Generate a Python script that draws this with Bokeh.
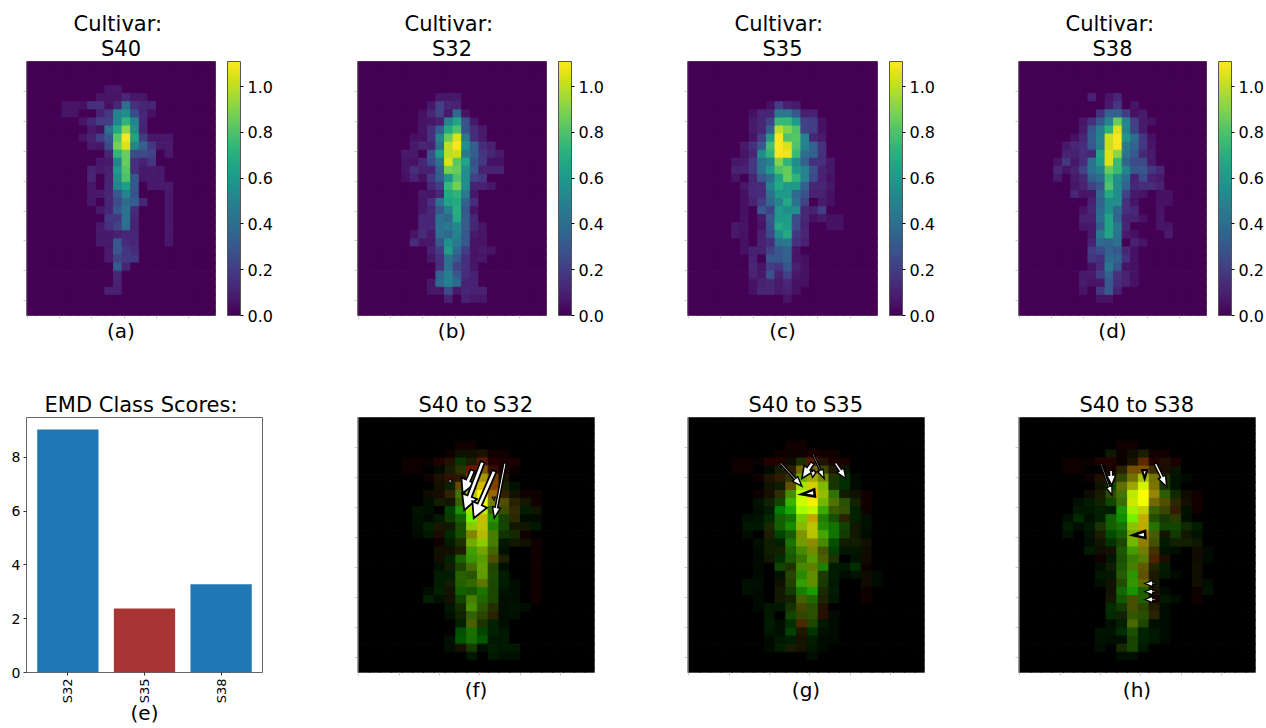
from bokeh.plotting import figure
from bokeh.embed import file_html
from bokeh.resources import INLINE
from bokeh.layouts import column, row
from bokeh.models import (ColorBar, ColumnDataSource, FixedTicker, LinearColorMapper,
                          NumeralTickFormatter, Range1d, Title)
from bokeh.palettes import Viridis256
import math

FONT = "DejaVu Sans"
VMAX = 1.11

S40 = {
 3:{9:.07,10:.07},
 4:{8:.06,9:.06,10:.06,11:.12,12:.07,13:.07},
 5:{4:.06,5:.06,6:.04,7:.15,8:.15,9:.05,10:.12,11:.4,12:.15,13:.12,14:.12},
 6:{4:.06,5:.06,8:.1,9:.18,10:.5,11:.55,12:.25,13:.12,14:.05},
 7:{6:.06,7:.13,8:.2,9:.2,10:.5,11:.72,12:.5,13:.12},
 8:{7:.08,8:.05,9:.42,10:.68,11:.92,12:.55,13:.1},
 9:{6:.06,7:.1,8:.2,9:.3,10:.82,11:1.1,12:.65,13:.2,14:.07,15:.07,16:.07},
 10:{7:.08,8:.07,9:.25,10:.88,11:1.05,12:.5,13:.35,14:.18,15:.08,16:.08},
 11:{9:.12,10:.72,11:.85,12:.25,13:.25,14:.22,16:.07},
 12:{8:.07,9:.08,10:.5,11:.85,12:.15,13:.1,14:.18},
 13:{7:.1,8:.08,9:.1,10:.6,11:.82,12:.15,13:.08,14:.08,15:.07},
 14:{7:.12,9:.1,10:.55,11:.8,12:.3,13:.07,14:.08,15:.08},
 15:{7:.07,9:.12,10:.5,11:.62,12:.3,14:.08,15:.08,16:.08},
 16:{7:.07,8:.08,9:.12,10:.3,11:.5,12:.28,16:.07},
 17:{7:.07,9:.12,10:.25,11:.38,12:.33,13:.12,16:.07},
 18:{8:.07,9:.12,10:.3,11:.42,12:.14,16:.07},
 19:{9:.18,10:.18,11:.42,12:.12,16:.07},
 20:{8:.07,9:.15,10:.22,11:.4,12:.1,16:.07},
 21:{8:.08,9:.08,10:.1,11:.12,12:.12,16:.07},
 22:{8:.08,9:.08,10:.3,11:.14,12:.12,16:.07},
 23:{9:.08,10:.3,11:.18,12:.14},
 24:{9:.08,10:.22,11:.18,12:.18},
 25:{10:.32,11:.12},
 26:{10:.12},
 27:{10:.1},
 28:{9:.1,10:.1},
}
S32 = {
 4:{9:.07,10:.07,11:.07},
 5:{8:.07,9:.22,10:.12,11:.1},
 6:{7:.05,8:.12,9:.22,10:.08,11:.38,12:.06},
 7:{7:.06,8:.07,9:.1,10:.5,11:.65,12:.28,13:.07},
 8:{7:.06,8:.15,9:.33,10:.68,11:.8,12:.28,13:.14,14:.08},
 9:{6:.05,7:.05,8:.15,9:.5,10:.85,11:1.05,12:.45,13:.14,14:.08},
 10:{6:.07,7:.12,8:.1,9:.42,10:1.0,11:1.1,12:.55,13:.33,14:.14,15:.1},
 11:{5:.08,6:.07,8:.28,9:.62,10:1.0,11:1.02,12:.45,13:.33,14:.18,15:.12,16:.08},
 12:{5:.06,6:.05,7:.12,8:.25,9:.42,10:1.05,11:.82,12:.65,13:.28,14:.18,15:.05,16:.05},
 13:{5:.06,6:.14,7:.1,8:.1,9:.33,10:.88,11:.85,12:.55,13:.3,14:.1,15:.1,16:.1},
 14:{5:.05,6:.1,7:.05,8:.18,9:.33,10:.58,11:.8,12:.55,13:.22,14:.18},
 15:{8:.12,9:.2,10:.75,11:.88,12:.55,13:.1,14:.1,15:.07},
 16:{7:.07,8:.06,9:.12,10:.68,11:.72,12:.45,13:.07},
 17:{7:.06,8:.15,9:.42,10:.65,11:.68,12:.35,13:.14},
 18:{7:.07,8:.12,9:.3,10:.48,11:.7,12:.3,13:.06},
 19:{7:.12,8:.12,9:.42,10:.38,11:.68,12:.32,13:.12},
 20:{7:.12,8:.12,9:.42,10:.45,11:.52,12:.32,13:.12,14:.06},
 21:{6:.06,7:.14,8:.08,9:.42,10:.38,11:.5,12:.3,13:.08,14:.06},
 22:{6:.14,7:.07,8:.07,9:.3,10:.55,11:.45,12:.3,13:.06,14:.06},
 23:{8:.1,9:.2,10:.62,11:.38,12:.2,13:.06,14:.08,15:.06},
 24:{8:.07,9:.15,10:.42,11:.3,12:.15,13:.06,14:.07},
 25:{9:.15,10:.42,11:.22,12:.15,13:.06},
 26:{9:.35,10:.48,11:.3,12:.14,13:.1},
 27:{8:.07,9:.38,10:.48,11:.38,12:.1,13:.1},
 28:{8:.07,9:.07,10:.25,11:.07,12:.12,13:.1,14:.1},
 29:{10:.1,12:.1,13:.07,14:.07},
}
S35 = {
 5:{9:.05,10:.2,11:.1,12:.08},
 6:{7:.05,8:.12,9:.12,10:.45,11:.45,12:.3,13:.1,14:.1},
 7:{7:.08,8:.12,9:.22,10:.75,11:.75,12:.6,13:.22,14:.2,15:.05},
 8:{7:.08,8:.12,9:.35,10:1.0,11:.9,12:.8,13:.22,14:.2,15:.05},
 9:{7:.06,8:.2,9:.62,10:1.1,11:.8,12:.82,13:.5,14:.12,15:.08},
 10:{6:.08,7:.15,8:.3,9:.78,10:1.1,11:1.05,12:.8,13:.5,14:.35,15:.15},
 11:{6:.06,7:.12,8:.55,9:.72,10:1.1,11:1.08,12:.75,13:.4,14:.35,15:.15},
 12:{5:.07,6:.08,7:.18,8:.42,9:.5,10:.9,11:.72,12:.55,13:.35,14:.15,15:.15,16:.07},
 13:{5:.1,6:.1,7:.18,8:.42,9:.6,10:.8,11:.85,12:.6,13:.5,14:.28,15:.1,16:.07},
 14:{5:.06,7:.12,8:.3,9:.4,10:.65,11:.85,12:.72,13:.5,14:.25,15:.1,16:.05},
 15:{6:.07,7:.13,8:.14,9:.5,10:.68,11:.6,12:.6,13:.35,14:.12,15:.12,16:.07},
 16:{6:.05,7:.13,8:.14,9:.42,10:.6,11:.6,12:.38,13:.28,14:.1,15:.1,16:.05},
 17:{6:.05,7:.1,8:.2,9:.38,10:.5,11:.68,12:.42,13:.22,15:.08,16:.05},
 18:{6:.05,8:.3,9:.22,10:.6,11:.55,12:.55,13:.12,14:.1,15:.2},
 19:{6:.05,8:.08,9:.3,10:.6,11:.62,12:.25,13:.12,14:.05,15:.08,16:.05,17:.05},
 20:{5:.07,6:.06,8:.06,9:.28,10:.68,11:.62,12:.25,13:.1,16:.05,17:.05},
 21:{5:.07,6:.05,8:.1,9:.25,10:.55,11:.68,12:.18,13:.12},
 22:{6:.05,8:.1,9:.14,10:.42,11:.45,12:.15,13:.1},
 23:{6:.05,7:.1,8:.1,9:.22,10:.3,11:.35,12:.07},
 24:{7:.1,9:.3,10:.3,11:.35,12:.06,13:.05},
 25:{7:.12,8:.06,9:.2,10:.18,11:.3,12:.1,13:.05},
 26:{7:.1,8:.07,9:.28,10:.1,11:.22,12:.07,13:.05},
 27:{7:.05,8:.1,9:.12,10:.08,11:.12,12:.05,13:.05},
 28:{7:.05,8:.12,9:.12,10:.08,11:.1,12:.05},
 29:{11:.06},
}
S38 = {
 4:{8:.1,10:.06,11:.12},
 5:{10:.08,11:.18,13:.06},
 6:{9:.15,10:.35,11:.35,12:.2,13:.05,14:.08},
 7:{7:.07,8:.15,9:.3,10:.5,11:.85,12:.5,13:.2,14:.08,15:.05},
 8:{7:.08,8:.3,9:.48,10:.72,11:1.05,12:.5,13:.22,14:.08},
 9:{6:.05,7:.12,8:.33,9:.5,10:1.02,11:1.1,12:.58,13:.4,14:.18,15:.05},
 10:{5:.07,6:.12,7:.14,8:.3,9:.48,10:1.02,11:1.1,12:.45,13:.35,14:.18,15:.06},
 11:{5:.1,6:.1,7:.14,8:.12,9:.65,10:1.05,11:.92,12:.42,13:.3,14:.12,15:.08},
 12:{4:.06,5:.18,6:.07,7:.14,8:.42,9:.62,10:1.05,11:.75,12:.35,13:.25,14:.25,15:.07},
 13:{4:.12,5:.06,6:.1,7:.22,8:.42,9:.5,10:.85,11:.75,12:.5,13:.3,14:.3,15:.18,16:.12},
 14:{4:.08,6:.08,7:.12,8:.33,9:.4,10:.75,11:.55,12:.4,13:.1,14:.25,15:.1,16:.08},
 15:{6:.06,7:.1,8:.22,9:.3,10:.8,11:.55,12:.35,13:.12,14:.14,15:.14,16:.1},
 16:{6:.12,7:.06,8:.07,9:.38,10:.68,11:.55,12:.22,13:.08,14:.06,16:.05,17:.05},
 17:{8:.1,9:.35,10:.55,11:.55,12:.15,13:.06,16:.05,17:.05},
 18:{7:.06,8:.12,9:.38,10:.55,11:.38,12:.15,13:.12,16:.06},
 19:{7:.1,8:.1,9:.4,10:.65,11:.35,12:.1,13:.1,14:.05,16:.06},
 20:{7:.07,8:.08,9:.33,10:.65,11:.45,12:.12,16:.06,17:.06},
 21:{8:.07,9:.45,10:.65,11:.42,12:.08,13:.05,17:.08},
 22:{8:.1,9:.38,10:.35,11:.42,13:.1,14:.06},
 23:{8:.2,9:.25,10:.35,11:.3,12:.12,13:.05},
 24:{8:.18,9:.15,10:.38,11:.35,12:.15,13:.05},
 25:{8:.06,9:.14,10:.45,11:.3,12:.06,13:.05},
 26:{7:.08,8:.08,9:.2,10:.35,11:.15,12:.1,13:.05},
 27:{7:.08,8:.06,9:.06,10:.3,11:.14,12:.1,13:.05},
 28:{7:.06,9:.18,10:.3,11:.1},
 29:{9:.06,10:.06},
}

SCORE_LABELS = ["S32", "S35", "S38"]
SCORES = [9.03, 2.38, 3.28]
BAR_COLORS = ["#1f77b4", "#a93434", "#1f77b4"]

# arrows: tail x, tail y, head x, head y (image cells), shaft, head width, head length (px), edge
ARROWS_F = [
 (10.56,6.51,9.63,9.35,4.5,15,14,1.8), (11.49,5.48,9.78,11.45,4.5,16,15,1.8),
 (12.57,6.60,10.66,12.44,4.5,16,15,1.8), (13.57,5.61,12.57,12.44,2.5,8,11,1.5),
 (8.45,7.62,8.48,8.24,1,3,4,1), (12.52,9.85,12.54,10.22,1,3,3,1.2),
]
ARROWS_G = [
 (8.48,5.61,10.49,8.49,2,7,10,1.4), (11.48,5.61,10.49,7.54,4,11,12,1.6),
 (11.51,4.53,12.56,7.54,1.6,6,9,1.3), (11.57,6.51,11.48,7.41,2,6,6,1.3),
 (13.58,5.61,14.58,7.54,2.8,8,10,1.4), (11.66,9.31,10.49,9.47,0,7,11,2.6),
]
ARROWS_H = [
 (7.52,5.68,8.55,9.60,1.6,6,9,1.3), (8.45,6.51,8.52,8.36,3,9,10,1.4),
 (11.58,6.51,11.58,7.54,0,5,7,2.2), (12.57,5.68,13.63,8.57,2.8,8,11,1.4),
 (11.63,14.45,10.51,14.54,0,7,11,2.6), (12.61,20.51,11.59,20.51,1.5,6,8,1.2),
 (12.61,21.54,11.59,21.49,1.5,6,8,1.2), (12.61,22.48,11.59,22.48,1.5,6,8,1.2),
]

X_TICKS = [0, 3.74, 7.48, 11.22, 14.96, 18.7]
Y_TICKS = [3.76, 7.46, 11.16, 14.86, 18.56, 22.26, 25.96, 29.66]
NCOL, NROW = 22, 32
mapper = LinearColorMapper(palette=Viridis256, low=0, high=VMAX)


def val(m, r, c):
    return m.get(r, {}).get(c, 0.0)


def base(width, height, left, right, top, bottom, xr, yr, **kw):
    p = figure(width=width, height=height, x_range=xr, y_range=yr, toolbar_location=None,
               output_backend="svg", min_border_left=left, min_border_right=right,
               min_border_top=top, min_border_bottom=bottom, **kw)
    p.grid.visible = False
    p.background_fill_color = "white"
    p.border_fill_color = None
    return p


def style_title(t, txt, offset=None, standoff=7):
    t.text = txt
    t.text_font = FONT
    t.text_font_size = "21px"
    t.text_font_style = "normal"
    t.text_color = "black"
    t.standoff = standoff
    if offset is None:
        t.align = "center"
    else:
        t.align = "left"
        t.offset = offset


def heat_axes(p, label, standoff):
    for ax, tk in ((p.xaxis[0], X_TICKS), (p.yaxis[0], Y_TICKS)):
        ax.ticker = FixedTicker(ticks=tk)
        ax.major_label_overrides = {t: "" for t in tk}
        ax.major_tick_in = 0
        ax.major_tick_out = 3
        ax.major_tick_line_color = "#aaaaaa"
        ax.major_tick_line_width = 0.6
        ax.minor_tick_line_color = None
        ax.axis_line_color = None
    ax = p.xaxis[0]
    ax.axis_label = label
    ax.axis_label_text_font = FONT
    ax.axis_label_text_font_size = "20px"
    ax.axis_label_text_font_style = "normal"
    ax.axis_label_text_color = "black"
    ax.axis_label_standoff = standoff


def cells(m):
    d = dict(left=[], right=[], top=[], bottom=[], v=[])
    for r in range(NROW):
        for c in range(NCOL):
            d["left"].append(c); d["right"].append(c + 1)
            d["top"].append(r); d["bottom"].append(r + 1)
            d["v"].append(val(m, r, c))
    return d


def heat_panel(m, name, label, width, left=18, frame_w=189):
    p = base(width, 358, left, width - left - frame_w, 61, 43,
             Range1d(-0.13, NCOL - 0.13), Range1d(31.5, 0))
    tf = {"field": "v", "transform": mapper}
    p.quad(left="left", right="right", top="top", bottom="bottom", fill_color=tf, line_color=tf,
           line_width=1, source=ColumnDataSource(cells(m)))
    style_title(p.title, "Cultivar:", offset=47, standoff=-2)
    lower = Title()
    style_title(lower, name, standoff=1)
    p.add_layout(lower, "above")
    heat_axes(p, label, 0)
    p.outline_line_color = "#666666"
    cb = ColorBar(color_mapper=mapper, ticker=FixedTicker(ticks=[0, .2, .4, .6, .8, 1.0]),
                  formatter=NumeralTickFormatter(format="0.0"),
                  width=13, height=254, margin=0, padding=0, location=(12, 0),
                  major_label_text_font=FONT, major_label_text_font_size="16px",
                  major_label_text_color="black", major_tick_in=0, major_tick_out=3,
                  major_tick_line_color="black", bar_line_color="#555555", label_standoff=4,
                  background_fill_color=None, border_line_color=None)
    p.add_layout(cb, "right")
    return p


def arrow_polys(arrows, sx, sy):
    xs, ys, lw = [], [], []
    for x0, y0, x1, y1, sw, hw, hl, edge in arrows:
        dx, dy = (x1 - x0) * sx, (y1 - y0) * sy
        L = math.hypot(dx, dy)
        ux, uy = dx / L, dy / L
        nx, ny = -uy, ux
        hl = min(hl, L)
        if sw > 0:
            pts = [(0, sw / 2), (L - hl, sw / 2), (L - hl, hw / 2), (L, 0),
                   (L - hl, -hw / 2), (L - hl, -sw / 2), (0, -sw / 2)]
        else:
            pts = [(0, hw / 2), (L, 0), (0, -hw / 2)]
        xs.append([x0 + (a * ux + b * nx) / sx for a, b in pts])
        ys.append([y0 + (a * uy + b * ny) / sy for a, b in pts])
        lw.append(edge)
    return xs, ys, lw


def rgb_panel(m, title, label, width, arrows, left=18):
    fw = 237
    p = base(width, 370, left, width - left - fw, 59, 56, Range1d(-0.13, NCOL - 0.13), Range1d(31.5, 0))
    d = cells(S40)
    d["color"] = []
    for r in range(NROW):
        for c in range(NCOL):
            R = min(255, round(val(S40, r, c) / VMAX * 255))
            G = min(255, round(val(m, r, c) / VMAX * 255))
            d["color"].append("#%02x%02x00" % (R, G))
    p.quad(left="left", right="right", top="top", bottom="bottom", fill_color="color", line_color="color",
           line_width=1, source=ColumnDataSource(d))
    xs, ys, lw = arrow_polys(arrows, fw / NCOL, 255 / 31.5)
    p.patches("xs", "ys", fill_color="white", line_color="black", line_width="lw", line_join="miter",
              source=ColumnDataSource(dict(xs=xs, ys=ys, lw=lw)))
    style_title(p.title, title, offset=61, standoff=1)
    heat_axes(p, label, 2)
    p.outline_line_color = "#999999"
    return p


def bar_panel():
    p = base(339, 370, 26, 339 - 26 - 236, 59, 56, Range1d(-0.54, 2.54), Range1d(0, 9.48))
    idx = list(range(len(SCORES)))
    p.vbar(x=idx, top=SCORES, width=0.8, bottom=0, fill_color=BAR_COLORS, line_color=None)
    style_title(p.title, "EMD Class Scores:", offset=18, standoff=1)
    ax = p.xaxis[0]
    ax.ticker = FixedTicker(ticks=idx)
    ax.major_label_overrides = {i: s for i, s in zip(idx, SCORE_LABELS)}
    ax.major_label_orientation = math.pi / 2
    ax.major_label_standoff = 3
    ay = p.yaxis[0]
    ay.ticker = FixedTicker(ticks=[0, 2, 4, 6, 8])
    ay.major_label_standoff = 3
    for a in (ax, ay):
        a.major_label_text_font = FONT
        a.major_label_text_color = "black"
        a.major_tick_in = 0
        a.major_tick_out = 3
        a.major_tick_line_color = "#333333"
        a.minor_tick_line_color = None
        a.axis_line_color = None
    ax.major_label_text_font_size = "13px"
    ay.major_label_text_font_size = "14px"
    ax.axis_label = "(e)"
    ax.axis_label_text_font = FONT
    ax.axis_label_text_font_size = "20px"
    ax.axis_label_text_font_style = "normal"
    ax.axis_label_text_color = "black"
    ax.axis_label_standoff = -5
    p.outline_line_color = "#666666"
    return p


top = row(heat_panel(S40, "S40", "(a)", 339, left=26),
          heat_panel(S32, "S32", "(b)", 330),
          heat_panel(S35, "S35", "(c)", 331, frame_w=190),
          heat_panel(S38, "S38", "(d)", 266))
bottom = row(bar_panel(),
             rgb_panel(S32, "S40 to S32", "(f)", 330, ARROWS_F),
             rgb_panel(S35, "S40 to S35", "(g)", 331, ARROWS_G),
             rgb_panel(S38, "S40 to S38", "(h)", 266, ARROWS_H))
page = column(top, bottom)
open("out.html", "w").write(file_html(page, INLINE))
